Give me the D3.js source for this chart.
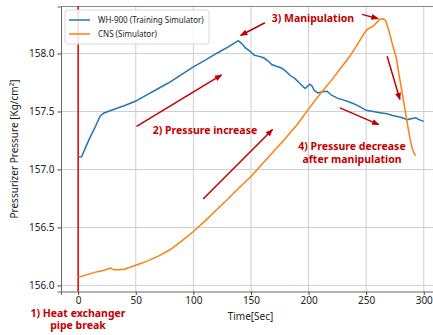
<!DOCTYPE html>
<html>
<head>
<meta charset="utf-8">
<script src="https://cdn.jsdelivr.net/npm/d3@7"></script>
<style>
  body { margin: 0; background: #fff; }
  svg { display: block; font-family: "Noto Sans", "Open Sans", sans-serif; }
</style>
</head>
<body>
<div id="chart"></div>
<script>
// WH-900 (training simulator)
const blueT = [0, 3, 6, 10, 15, 19, 22, 26, 30, 40, 50, 60, 70, 80, 90, 100, 110, 120, 130, 139, 142, 145, 149, 153, 157, 161, 165, 168, 172, 176, 180, 184, 188, 192, 197, 201, 203, 205, 208, 212, 216, 220, 225, 230, 236, 242, 250, 256, 262, 268, 273, 280, 286, 290, 293, 296, 300];
const blueV = [157.108, 157.11, 157.18, 157.27, 157.37, 157.46, 157.485, 157.5, 157.515, 157.55, 157.59, 157.645, 157.70, 157.755, 157.82, 157.885, 157.94, 158.00, 158.055, 158.11, 158.085, 158.05, 158.02, 157.985, 157.975, 157.963, 157.935, 157.905, 157.89, 157.877, 157.85, 157.81, 157.785, 157.745, 157.698, 157.735, 157.72, 157.68, 157.66, 157.67, 157.675, 157.64, 157.615, 157.6, 157.58, 157.555, 157.51, 157.50, 157.49, 157.48, 157.465, 157.45, 157.43, 157.44, 157.445, 157.43, 157.415];
// CNS (simulator)
const orangeT = [0, 5, 10, 15, 20, 25, 28, 31, 35, 40, 50, 60, 70, 80, 90, 100, 110, 120, 130, 140, 150, 160, 170, 180, 190, 200, 210, 220, 230, 235, 240, 245, 250, 253, 256, 259, 262, 265, 267, 269, 271, 273, 276, 279, 282, 285, 288, 290, 292, 293];
const orangeV = [156.07, 156.085, 156.10, 156.115, 156.125, 156.14, 156.15, 156.135, 156.135, 156.14, 156.175, 156.21, 156.255, 156.31, 156.385, 156.465, 156.555, 156.65, 156.745, 156.845, 156.94, 157.05, 157.16, 157.27, 157.385, 157.52, 157.65, 157.77, 157.9, 157.965, 158.04, 158.12, 158.2, 158.22, 158.235, 158.265, 158.295, 158.30, 158.28, 158.22, 158.15, 158.07, 157.97, 157.79, 157.62, 157.44, 157.27, 157.18, 157.13, 157.12];

const xTicks = [0, 50, 100, 150, 200, 250, 300];
const yTicks = [156.0, 156.5, 157.0, 157.5, 158.0];

// annotations: [t1, v1, t2, v2]
const arrows = [
  [50.7, 157.372, 124.5, 157.815],
  [108.5, 156.746, 168.7, 157.344],
  [162.1, 158.265, 141, 158.155],
  [246.5, 158.337, 260.4, 158.3],
  [268.2, 157.977, 279.3, 157.603],
  [227.2, 157.531, 261, 157.387]
];

var margin = {top: 6.5, left: 61},
    width = 379, height = 285;

var svg = d3.select("#chart").append("svg")
    .attr("width", 433).attr("height", 335);

var x = d3.scaleLinear().domain([-14.9, 314.1]).range([0, width]);
var y = d3.scaleLinear().domain([155.948, 158.405]).range([height, 0]);

var g = svg.append("g")
    .attr("transform", "translate(" + margin.left + "," + margin.top + ")");

// grid
g.append("g").selectAll("line").data(xTicks).enter().append("line")
    .attr("x1", d => x(d)).attr("x2", d => x(d))
    .attr("y1", 0).attr("y2", height)
    .attr("stroke", "#cfcfcf").attr("stroke-width", 1);
g.append("g").selectAll("line").data(yTicks).enter().append("line")
    .attr("x1", 0).attr("x2", width)
    .attr("y1", d => y(d)).attr("y2", d => y(d))
    .attr("stroke", "#cfcfcf").attr("stroke-width", 1);

// axes
var xAxis = g.append("g")
    .attr("transform", "translate(0," + height + ")")
    .call(d3.axisBottom(x).tickValues(xTicks).tickSize(3.5).tickPadding(1.5).tickFormat(d3.format("d")));
var yAxis = g.append("g")
    .call(d3.axisLeft(y).tickValues(yTicks).tickSize(3.5).tickPadding(3).tickFormat(d3.format(".1f")));
[xAxis, yAxis].forEach(function(a) {
    a.selectAll("text").attr("font-size", 10).attr("fill", "#222")
        .attr("font-family", "Noto Sans, sans-serif");
    a.selectAll("line").attr("stroke", "#444");
    a.select(".domain").attr("stroke", "#666");
});
// top spine
g.append("line").attr("x1", 0).attr("x2", width).attr("y1", 0).attr("y2", 0)
    .attr("stroke", "#888").attr("stroke-width", 1);

// vertical event line
g.append("line")
    .attr("x1", x(0)).attr("x2", x(0)).attr("y1", 0).attr("y2", height)
    .attr("stroke", "#e00000").attr("stroke-width", 1.5);

var line = d3.line().x(d => x(d[0])).y(d => y(d[1]));
g.append("path").datum(blueT.map((t, i) => [t, blueV[i]]))
    .attr("d", line).attr("fill", "none")
    .attr("stroke", "#1f77b4").attr("stroke-width", 1.5);
g.append("path").datum(orangeT.map((t, i) => [t, orangeV[i]]))
    .attr("d", line).attr("fill", "none")
    .attr("stroke", "#ff7f0e").attr("stroke-width", 1.5);

// arrows
var red = "#c00000";
svg.append("defs").append("marker")
    .attr("id", "head").attr("viewBox", "0 0 10 10")
    .attr("refX", 9).attr("refY", 5)
    .attr("markerWidth", 5).attr("markerHeight", 5)
    .attr("orient", "auto")
    .append("path").attr("d", "M0,1 L10,5 L0,9 Z").attr("fill", red);
g.selectAll(".arr").data(arrows).enter().append("line")
    .attr("x1", d => x(d[0])).attr("y1", d => y(d[1]))
    .attr("x2", d => x(d[2])).attr("y2", d => y(d[3]))
    .attr("stroke", red).attr("stroke-width", 1.5)
    .attr("marker-end", "url(#head)");

// annotation texts
function note(txt, px, py) {
    svg.append("text").attr("x", px).attr("y", py)
        .attr("text-anchor", "middle")
        .attr("font-size", 10.5).attr("font-weight", "bold")
        .attr("fill", red).text(txt);
}
note("2) Pressure increase", 205, 134);
note("3) Manipulation", 313, 22);
note("4) Pressure decrease", 352, 149.5);
note("after manipulation", 352, 162.5);
note("1) Heat exchanger", 78, 316.5);
note("pipe break", 78, 329);

// axis labels
svg.append("text").attr("x", 250.5).attr("y", 319.5)
    .attr("text-anchor", "middle").attr("font-size", 10).attr("fill", "#222")
    .text("Time[Sec]");
svg.append("text")
    .attr("transform", "translate(18,149) rotate(-90)")
    .attr("text-anchor", "middle").attr("font-size", 10).attr("fill", "#222")
    .text("Pressurizer Pressure [Kg/cm²]");

// legend
var lg = svg.append("g").attr("transform", "translate(65,10)");
lg.append("rect").attr("width", 144).attr("height", 34).attr("rx", 3)
    .attr("fill", "#fff").attr("fill-opacity", 0.85)
    .attr("stroke", "#d8d8d8");
[["WH-900 (Training Simulator)", "#1f77b4"], ["CNS (Simulator)", "#ff7f0e"]].forEach(function(e, i) {
    lg.append("line").attr("x1", 4).attr("x2", 25)
        .attr("y1", 10 + i * 14).attr("y2", 10 + i * 14)
        .attr("stroke", e[1]).attr("stroke-width", 1.5);
    lg.append("text").attr("x", 33).attr("y", 13 + i * 14)
        .attr("font-size", 8).attr("fill", "#222").text(e[0]);
});
</script>
</body>
</html>
